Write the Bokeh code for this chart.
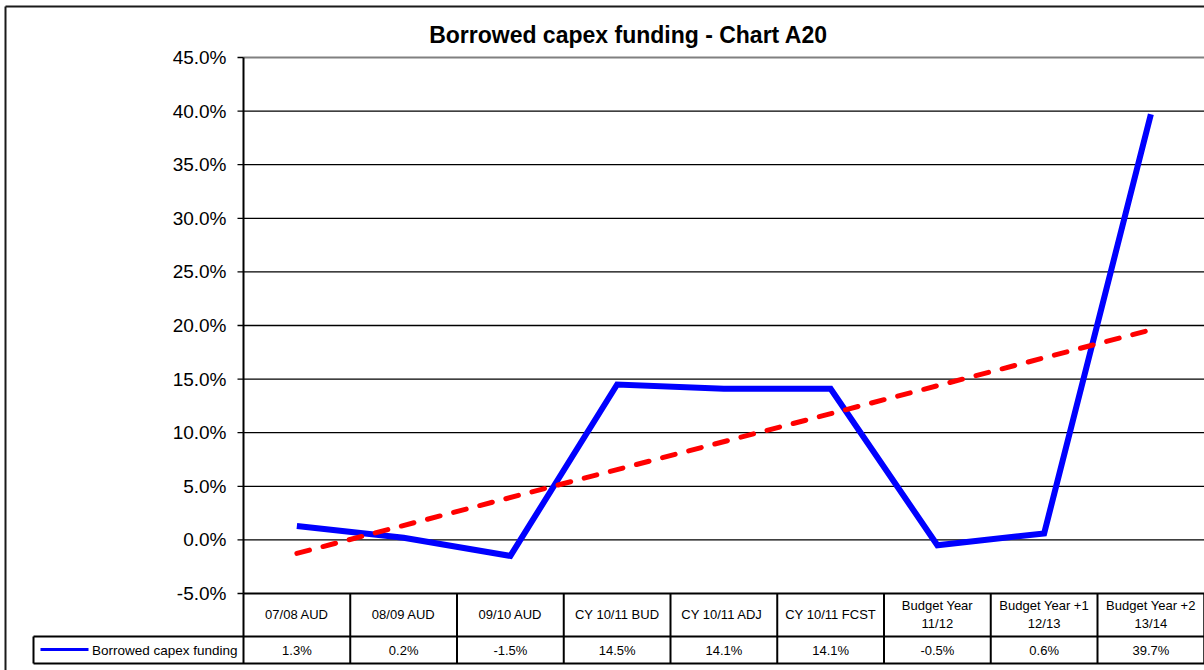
import numpy as np
from bokeh.plotting import figure
from bokeh.models import Range1d
from bokeh.core.properties import value
from bokeh.embed import file_html
from bokeh.resources import INLINE

# ---- data -------------------------------------------------------------
title_text = "Borrowed capex funding - Chart A20"
series_name = "Borrowed capex funding"
categories = [
    "07/08 AUD",
    "08/09 AUD",
    "09/10 AUD",
    "CY 10/11 BUD",
    "CY  10/11 ADJ",
    "CY 10/11 FCST",
    "Budget Year\n11/12",
    "Budget Year +1\n12/13",
    "Budget Year +2\n13/14",
]
borrowed_capex = [1.3, 0.2, -1.5, 14.5, 14.1, 14.1, -0.5, 0.6, 39.7]
y_ticks = [-5, 0, 5, 10, 15, 20, 25, 30, 35, 40, 45]
y_tick_labels = [f"{t:.1f}%" for t in y_ticks]

# ---- layout (pixels) --------------------------------------------------
W, H = 1204, 670
PLOT_LEFT = 243
COL_W = 106.75
PLOT_TOP = 57
PX_PER_PCT = 10.72
Y_MAX, Y_MIN = 45, -5
FONT = value("Liberation Sans")


def xd(px):
    return 0.5 + (px - PLOT_LEFT) / COL_W


def yd(px):
    return Y_MAX - (px - PLOT_TOP) / PX_PER_PCT


p = figure(
    width=W, height=H,
    x_range=Range1d(xd(0), xd(W)),
    y_range=Range1d(yd(H), yd(0)),
    x_axis_type=None, y_axis_type=None,
    min_border=0, toolbar_location=None,
    output_backend="svg",
)
p.outline_line_color = None
p.background_fill_color = "white"
p.border_fill_color = "white"

n = len(categories)
idx = np.arange(1, n + 1)
x_left, x_right = 0.5, n + 0.5

# outer chart border
p.segment(x0=[xd(5), xd(5)], y0=[yd(6), yd(6)], x1=[xd(5), xd(W)], y1=[yd(H), yd(6)],
          line_color="#1a1a1a", line_width=2)

# title
p.text(x=[xd(628)], y=[yd(34)], text=[title_text], text_font=FONT,
       text_font_size="23px", text_font_style="bold", text_align="center",
       text_baseline="middle", text_color="black")

# horizontal gridlines
grid_y = [t for t in y_ticks if Y_MIN < t < Y_MAX]
p.segment(x0=[x_left] * len(grid_y), y0=grid_y, x1=[x_right] * len(grid_y), y1=grid_y,
          line_color="black", line_width=1.3)
p.segment(x0=[x_left], y0=[Y_MAX], x1=[x_right], y1=[Y_MAX], line_color="#808080", line_width=2)

# y axis line, ticks, labels
p.segment(x0=[x_left], y0=[Y_MIN], x1=[x_left], y1=[Y_MAX], line_color="black", line_width=2)
p.segment(x0=[xd(237)] * len(y_ticks), y0=y_ticks, x1=[x_left] * len(y_ticks), y1=y_ticks,
          line_color="black", line_width=1.3)
p.text(x=[xd(226)] * len(y_ticks), y=y_ticks, text=y_tick_labels, text_font=FONT,
       text_font_size="19px", text_align="right", text_baseline="middle", text_color="black")

# series and linear trend
p.line(x=idx, y=borrowed_capex, line_color="#0000FF", line_width=6, line_join="miter")
slope, intercept = np.polyfit(idx, borrowed_capex, 1)
trend_x = [idx[0], idx[-1]]
trend_y = [intercept + slope * v for v in trend_x]
p.line(x=trend_x, y=trend_y, line_color="#FF0000", line_width=5,
       line_dash="13 14", line_cap="round")

# data table
row1_bottom = yd(636)
row2_bottom = yd(663)
table_left = xd(33)
p.segment(x0=[x_left, table_left, table_left], y0=[Y_MIN, row1_bottom, row2_bottom],
          x1=[x_right] * 3, y1=[Y_MIN, row1_bottom, row2_bottom],
          line_color="black", line_width=2)
col_edges = [x_left + k for k in range(n + 1)]
p.segment(x0=col_edges, y0=[Y_MIN] * len(col_edges), x1=col_edges, y1=[row2_bottom] * len(col_edges),
          line_color="black", line_width=2)
p.segment(x0=[table_left], y0=[row1_bottom], x1=[table_left], y1=[row2_bottom],
          line_color="black", line_width=2)

p.text(x=idx, y=[yd(614)] * n, text=categories, text_font=FONT, text_font_size="13px",
       text_align="center", text_baseline="middle", text_color="black", text_line_height=1.15)
p.text(x=idx, y=[yd(649.5)] * n, text=[f"{v:.1f}%" for v in borrowed_capex], text_font=FONT,
       text_font_size="13px", text_align="center", text_baseline="middle", text_color="black")

# legend key in the table
p.segment(x0=[xd(40)], y0=[yd(649)], x1=[xd(88)], y1=[yd(649)], line_color="#0000FF", line_width=3)
p.text(x=[xd(237)], y=[yd(649.5)], text=[series_name], text_font=FONT, text_font_size="13.5px",
       text_align="right", text_baseline="middle", text_color="black")

open("out.html", "w").write(file_html(p, INLINE))
